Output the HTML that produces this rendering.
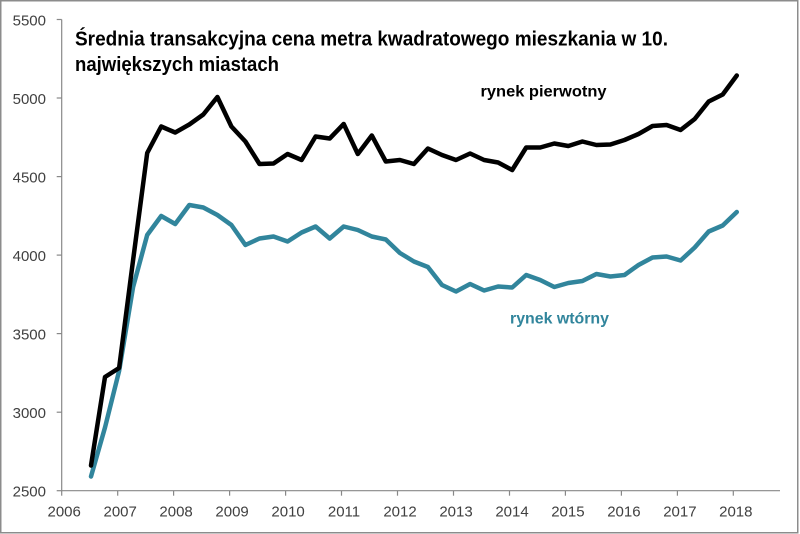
<!DOCTYPE html>
<html>
<head>
<meta charset="utf-8">
<style>
html,body{margin:0;padding:0;background:#fff;}
svg{display:block;}
text{font-family:"Liberation Sans",Arial,sans-serif;}
</style>
</head>
<body>
<svg width="800" height="534" viewBox="0 0 800 534" xmlns="http://www.w3.org/2000/svg">
<rect x="0.75" y="0.75" width="797" height="532" fill="#fff" stroke="#8c8c8c" stroke-width="1.5"/>
<!-- axes -->
<g stroke="#888" stroke-width="1.2" fill="none">
<line x1="61.7" y1="19.5" x2="61.7" y2="490.7"/>
<line x1="61.7" y1="490.7" x2="780" y2="490.7"/>
<line x1="56.7" y1="19.5" x2="61.7" y2="19.5"/>
<line x1="56.7" y1="98" x2="61.7" y2="98"/>
<line x1="56.7" y1="176.6" x2="61.7" y2="176.6"/>
<line x1="56.7" y1="255.1" x2="61.7" y2="255.1"/>
<line x1="56.7" y1="333.6" x2="61.7" y2="333.6"/>
<line x1="56.7" y1="412.2" x2="61.7" y2="412.2"/>
<line x1="56.7" y1="490.7" x2="61.7" y2="490.7"/>
<line x1="61.7" y1="490.7" x2="61.7" y2="495.7"/>
<line x1="117.7" y1="490.7" x2="117.7" y2="495.7"/>
<line x1="173.6" y1="490.7" x2="173.6" y2="495.7"/>
<line x1="229.6" y1="490.7" x2="229.6" y2="495.7"/>
<line x1="285.6" y1="490.7" x2="285.6" y2="495.7"/>
<line x1="341.5" y1="490.7" x2="341.5" y2="495.7"/>
<line x1="397.5" y1="490.7" x2="397.5" y2="495.7"/>
<line x1="453.5" y1="490.7" x2="453.5" y2="495.7"/>
<line x1="509.5" y1="490.7" x2="509.5" y2="495.7"/>
<line x1="565.4" y1="490.7" x2="565.4" y2="495.7"/>
<line x1="621.4" y1="490.7" x2="621.4" y2="495.7"/>
<line x1="677.4" y1="490.7" x2="677.4" y2="495.7"/>
<line x1="733.3" y1="490.7" x2="733.3" y2="495.7"/>
</g>
<!-- y labels -->
<g font-size="15" fill="#404040" text-anchor="end">
<text x="46" y="25.5">5500</text>
<text x="46" y="104">5000</text>
<text x="46" y="182.6">4500</text>
<text x="46" y="261.1">4000</text>
<text x="46" y="339.6">3500</text>
<text x="46" y="418.2">3000</text>
<text x="46" y="496.7">2500</text>
</g>
<!-- x labels -->
<g font-size="15" fill="#404040" text-anchor="middle">
<text x="64.2" y="516.7">2006</text>
<text x="120.2" y="516.7">2007</text>
<text x="176.1" y="516.7">2008</text>
<text x="232.1" y="516.7">2009</text>
<text x="288.1" y="516.7">2010</text>
<text x="344" y="516.7">2011</text>
<text x="400" y="516.7">2012</text>
<text x="456" y="516.7">2013</text>
<text x="512" y="516.7">2014</text>
<text x="567.9" y="516.7">2015</text>
<text x="623.9" y="516.7">2016</text>
<text x="679.9" y="516.7">2017</text>
<text x="735.8" y="516.7">2018</text>
</g>
<!-- series -->
<polyline fill="none" stroke="#31859C" stroke-width="4.5" stroke-linejoin="round" stroke-linecap="round"
points="91,476.5 105,427.5 119.1,371 133.1,287 147.2,235 161.2,216 175.2,224 189.3,205 203.3,207.5 217.4,215 231.4,225 245.4,245 259.5,238.5 273.5,236.5 287.6,241.5 301.6,232.5 315.6,226.5 329.7,238.5 343.7,226.5 357.8,230 371.8,236.5 385.8,239.5 399.9,253 413.9,261.5 427.9,267 442,285 456,291.5 470.1,284 484.1,290.5 498.1,286.5 512.2,287.5 526.2,275 540.2,280 554.3,287 568.3,283 582.4,281 596.4,274 610.4,276.5 624.5,275 638.5,265 652.5,257.5 666.6,256.5 680.6,260.5 694.7,247.5 708.7,231.5 722.7,225.5 736.8,212"/>
<polyline fill="none" stroke="#000" stroke-width="4.5" stroke-linejoin="round" stroke-linecap="round"
points="91,465.5 105,377 119.1,368 133.1,260 147.2,153 161.2,126.5 175.2,132.5 189.3,124.5 203.3,114.5 217.4,97 231.4,126.5 245.4,141.5 259.5,164 273.5,163.5 287.6,154 301.6,160 315.6,136.5 329.7,138.5 343.7,124 357.8,154 371.8,135.5 385.8,161.5 399.9,160 413.9,164 427.9,148.5 442,155 456,160 470.1,153.5 484.1,160 498.1,162.5 512.2,170 526.2,147.5 540.2,147.5 554.3,143.5 568.3,146 582.4,141.5 596.4,145 610.4,144.5 624.5,140 638.5,134 652.5,126 666.6,125 680.6,130 694.7,119 708.7,101.5 722.7,94.5 736.8,75.5"/>
<!-- title -->
<g font-weight="bold" fill="#000">
<text x="75" y="45.7" font-size="20" textLength="593" lengthAdjust="spacingAndGlyphs">Średnia transakcyjna cena metra kwadratowego mieszkania w 10.</text>
<text x="75" y="71" font-size="20" textLength="204" lengthAdjust="spacingAndGlyphs">największych miastach</text>
<text x="480.5" y="96.5" font-size="16" textLength="126" lengthAdjust="spacingAndGlyphs">rynek pierwotny</text>
</g>
<text x="510" y="323.5" font-size="16" font-weight="bold" fill="#31859C" textLength="99" lengthAdjust="spacingAndGlyphs">rynek wtórny</text>
</svg>
</body>
</html>
